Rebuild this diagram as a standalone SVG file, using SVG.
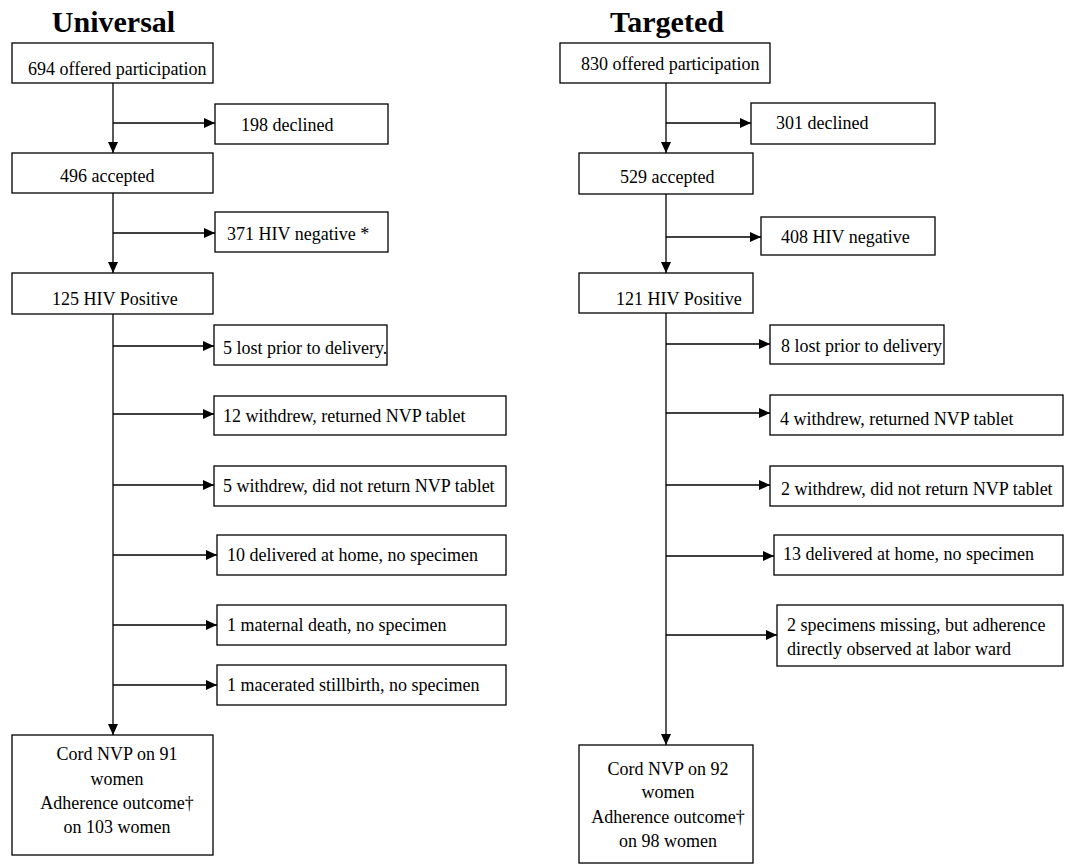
<svg xmlns="http://www.w3.org/2000/svg" width="1068" height="865" viewBox="0 0 1068 865">
<style>
.bg{fill:#fff}
.box{fill:#fff;stroke:#000;stroke-width:1.3}
.t{font-family:"Liberation Serif","Times New Roman",serif;font-size:18px;fill:#000}
.c{text-anchor:middle}
.title{font-family:"Liberation Serif","Times New Roman",serif;font-size:30px;font-weight:bold;fill:#000;text-anchor:middle}
.ln{fill:none;stroke:#000;stroke-width:1.3}
</style>
<defs>
<marker id="ah" viewBox="0 0 10 10" refX="10" refY="5" markerWidth="11" markerHeight="10" preserveAspectRatio="none" markerUnits="userSpaceOnUse" orient="auto">
<path d="M0,0 L10,5 L0,10 z" fill="#000"/>
</marker>
</defs>
<rect class="bg" x="0" y="0" width="1068" height="865"/>
<text class="title" x="113.5" y="32">Universal</text>
<text class="title" x="667" y="32">Targeted</text>
<g id="connectors">
<path class="ln" marker-end="url(#ah)" d="M113,83 V153"/>
<path class="ln" marker-end="url(#ah)" d="M113,123 H215"/>
<path class="ln" marker-end="url(#ah)" d="M113,193 V273"/>
<path class="ln" marker-end="url(#ah)" d="M113,233 H215"/>
<path class="ln" marker-end="url(#ah)" d="M113,314 V735"/>
<path class="ln" marker-end="url(#ah)" d="M113,346 H214"/>
<path class="ln" marker-end="url(#ah)" d="M113,414 H214"/>
<path class="ln" marker-end="url(#ah)" d="M113,485 H214"/>
<path class="ln" marker-end="url(#ah)" d="M113,555 H217"/>
<path class="ln" marker-end="url(#ah)" d="M113,625 H217"/>
<path class="ln" marker-end="url(#ah)" d="M113,685 H217"/>
<path class="ln" marker-end="url(#ah)" d="M666,83 V153"/>
<path class="ln" marker-end="url(#ah)" d="M666,123 H751"/>
<path class="ln" marker-end="url(#ah)" d="M666,194 V273"/>
<path class="ln" marker-end="url(#ah)" d="M666,237 H761"/>
<path class="ln" marker-end="url(#ah)" d="M666,313 V745"/>
<path class="ln" marker-end="url(#ah)" d="M666,344 H770"/>
<path class="ln" marker-end="url(#ah)" d="M666,413 H770"/>
<path class="ln" marker-end="url(#ah)" d="M666,485 H770"/>
<path class="ln" marker-end="url(#ah)" d="M666,556 H774"/>
<path class="ln" marker-end="url(#ah)" d="M666,635 H777"/>
</g>
<g id="u-offered"><rect class="box" x="12" y="43" width="201" height="40"/><text class="t" x="28" y="75">694 offered participation</text></g>
<g id="u-declined"><rect class="box" x="215" y="104" width="173" height="40"/><text class="t" x="241" y="131">198 declined</text></g>
<g id="u-accepted"><rect class="box" x="12" y="153" width="201" height="40"/><text class="t" x="60" y="182">496 accepted</text></g>
<g id="u-negative"><rect class="box" x="215" y="212" width="173" height="40"/><text class="t" x="227" y="240">371 HIV negative *</text></g>
<g id="u-positive"><rect class="box" x="12" y="273" width="201" height="41"/><text class="t" x="52" y="305">125 HIV Positive</text></g>
<g id="u-lost"><rect class="box" x="214" y="325" width="173" height="40"/><text class="t" x="223" y="354">5 lost prior to delivery.</text></g>
<g id="u-withdrew-returned"><rect class="box" x="214" y="396" width="292" height="39"/><text class="t" x="223" y="422">12 withdrew, returned NVP tablet</text></g>
<g id="u-withdrew-not"><rect class="box" x="214" y="466" width="292" height="40"/><text class="t" x="223" y="492">5 withdrew, did not return NVP tablet</text></g>
<g id="u-home"><rect class="box" x="217" y="535" width="289" height="40"/><text class="t" x="227" y="561">10 delivered at home, no specimen</text></g>
<g id="u-death"><rect class="box" x="217" y="605" width="289" height="40"/><text class="t" x="227" y="631">1 maternal death, no specimen</text></g>
<g id="u-stillbirth"><rect class="box" x="217" y="665" width="289" height="40"/><text class="t" x="227" y="691">1 macerated stillbirth, no specimen</text></g>
<g id="u-final"><rect class="box" x="12" y="735" width="201" height="120"/>
<text class="t c" x="117" y="760">Cord NVP on 91</text>
<text class="t c" x="117" y="785">women</text>
<text class="t c" x="117" y="809">Adherence outcome†</text>
<text class="t c" x="117" y="833">on 103 women</text></g>
<g id="t-offered"><rect class="box" x="560" y="43" width="210" height="40"/><text class="t" x="581" y="70">830 offered participation</text></g>
<g id="t-declined"><rect class="box" x="751" y="103" width="184" height="41"/><text class="t" x="776" y="129">301 declined</text></g>
<g id="t-accepted"><rect class="box" x="579" y="153" width="174" height="41"/><text class="t" x="620" y="183">529 accepted</text></g>
<g id="t-negative"><rect class="box" x="761" y="217" width="174" height="38"/><text class="t" x="781" y="243">408 HIV negative</text></g>
<g id="t-positive"><rect class="box" x="579" y="273" width="174" height="40"/><text class="t" x="616" y="305">121 HIV Positive</text></g>
<g id="t-lost"><rect class="box" x="770" y="325" width="174" height="39"/><text class="t" x="781" y="352">8 lost prior to delivery</text></g>
<g id="t-withdrew-returned"><rect class="box" x="770" y="395" width="293" height="40"/><text class="t" x="780" y="425">4 withdrew, returned NVP tablet</text></g>
<g id="t-withdrew-not"><rect class="box" x="770" y="466" width="293" height="40"/><text class="t" x="781" y="495">2 withdrew, did not return NVP tablet</text></g>
<g id="t-home"><rect class="box" x="774" y="535" width="289" height="40"/><text class="t" x="783" y="560">13 delivered at home, no specimen</text></g>
<g id="t-missing"><rect class="box" x="777" y="605" width="286" height="61"/>
<text class="t" x="787" y="631">2 specimens missing, but adherence</text>
<text class="t" x="787" y="655">directly observed at labor ward</text></g>
<g id="t-final"><rect class="box" x="579" y="745" width="174" height="118"/>
<text class="t c" x="668" y="775">Cord NVP on 92</text>
<text class="t c" x="668" y="798">women</text>
<text class="t c" x="668" y="823">Adherence outcome†</text>
<text class="t c" x="668" y="847">on 98 women</text></g>
</svg>
